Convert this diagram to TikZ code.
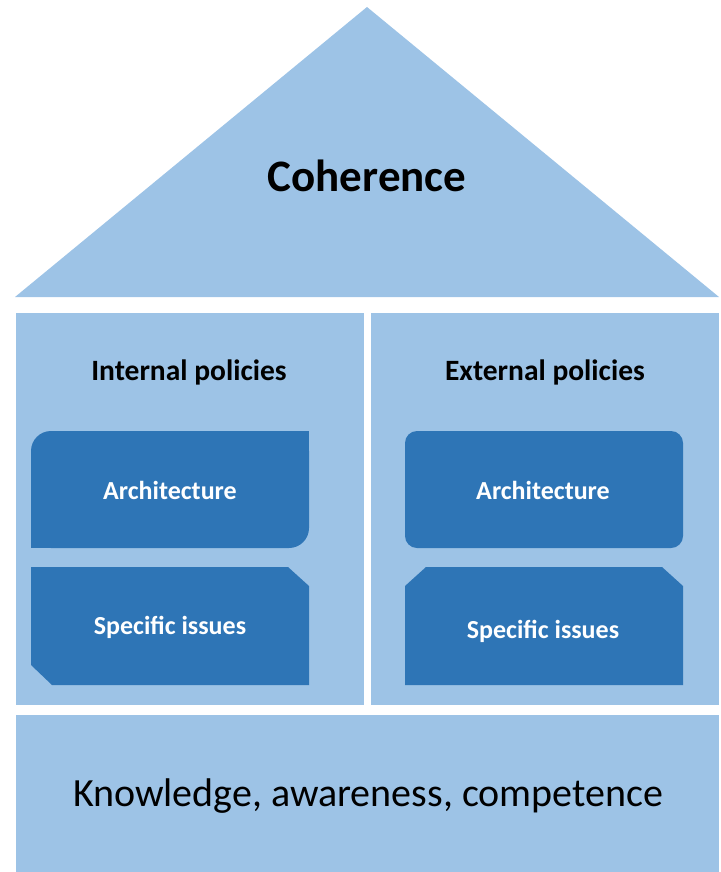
\documentclass[tikz,border=0pt]{standalone}
\usepackage{fontspec}
\setmainfont{Carlito}
\usepackage{tikz}

\definecolor{lightblue}{HTML}{9DC3E6}
\definecolor{darkblue}{HTML}{2E75B6}

\begin{document}
\begin{tikzpicture}[x=1pt, y=-1pt,
    pane/.style={fill=lightblue},
    block/.style={fill=darkblue},
    blocktext/.style={text=white, font=\fontsize{26}{30}\selectfont\bfseries},
    headtext/.style={font=\fontsize{29.5}{34}\selectfont\bfseries}]
                \useasboundingbox (0,0) rectangle (720,872);

                % roof
                \fill[pane] (15,297) -- (367,7) -- (719,297) -- cycle;
                \node (coherence) at (367,176) {\fontsize{45}{52}\selectfont\bfseries Coherence};

                % two pillars
                \fill[pane] (16,313) rectangle (364,705);
                \fill[pane] (371,313) rectangle (719,705);
                \node[headtext] (internal) at (189,372) {Internal policies};
                \node[headtext] (external) at (545,372) {External policies};

                % left pillar: round diagonal corners, snip diagonal corners
                \fill[block, rounded corners=20] (31,431) rectangle (309,548);
                \fill[block] (289,431) rectangle (309,451);
                \fill[block] (31,528) rectangle (51,548);
                \node[blocktext] (archleft) at (170,490) {Architecture};

                \fill[block] (31,567) -- (288,567) -- (309,586) -- (309,685) -- (52,685) -- (31,665) -- cycle;
                \node[blocktext] (issuesleft) at (170,627) {Specific issues};

                % right pillar: rounded box, box with snipped top corners
                \fill[block, rounded corners=12] (405,431) rectangle (683,548);
                \node[blocktext] (archright) at (543,490) {Architecture};

                \fill[block] (405,586) -- (426,567) -- (662,567) -- (683,586) -- (683,685) -- (405,685) -- cycle;
                \node[blocktext] (issuesright) at (543,631) {Specific issues};

                % foundation
                \fill[pane] (16,715) rectangle (719,872);
                \node (knowledge) at (368,796) {\fontsize{40}{46}\selectfont Knowledge, awareness, competence};
            \end{tikzpicture}
\end{document}
